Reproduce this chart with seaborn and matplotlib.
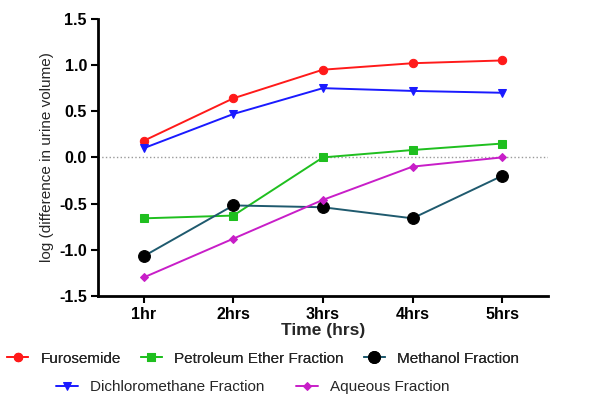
import pandas as pd
import matplotlib.pyplot as plt
import seaborn as sns

# Datos
horas = ['1hr', '2hrs', '3hrs', '4hrs', '5hrs']
furosemide = [0.18, 0.64, 0.95, 1.02, 1.05]
dichloromethane = [0.10, 0.47, 0.75, 0.72, 0.70]
petroleum = [-0.66, -0.63, 0.00, 0.08, 0.15]
methanol = [-1.07, -0.52, -0.54, -0.66, -0.20]
aqueous = [-1.30, -0.88, -0.46, -0.10, 0.00]

series = {
    'Furosemide': furosemide,
    'Dichloromethane Fraction': dichloromethane,
    'Petroleum Ether Fraction': petroleum,
    'Methanol Fraction': methanol,
    'Aqueous Fraction': aqueous,
}
colores = {
    'Furosemide': '#ff1a1a',
    'Dichloromethane Fraction': '#1a1aff',
    'Petroleum Ether Fraction': '#1fbf1f',
    'Methanol Fraction': '#1f5a6e',
    'Aqueous Fraction': '#c81ec8',
}
marcadores = {
    'Furosemide': 'o',
    'Dichloromethane Fraction': 'v',
    'Petroleum Ether Fraction': 's',
    'Methanol Fraction': 'o',
    'Aqueous Fraction': 'D',
}
tam = {
    'Furosemide': 6,
    'Dichloromethane Fraction': 6,
    'Petroleum Ether Fraction': 6,
    'Methanol Fraction': 8.5,
    'Aqueous Fraction': 4,
}
cara = {k: colores[k] for k in series}
cara['Methanol Fraction'] = 'black'

filas = []
for nombre, vals in series.items():
    for i, v in enumerate(vals):
        filas.append({'x': i, 'y': v, 'serie': nombre})
df = pd.DataFrame(filas)

sns.set_theme(style="ticks")
plt.rcParams['font.family'] = ['Liberation Sans', 'DejaVu Sans']

fig = plt.figure(figsize=(5.98, 3.94), dpi=100)
ax = fig.add_axes([0.164, 0.249, 0.752, 0.703])

ax.axhline(0, color='#999999', linestyle=':', linewidth=1.0, zorder=1)

handles = {}
for nombre in series:
    d = df[df['serie'] == nombre]
    sns.lineplot(data=d, x='x', y='y', ax=ax, color=colores[nombre],
                 marker=marcadores[nombre], markersize=tam[nombre],
                 markerfacecolor=cara[nombre], markeredgecolor=cara[nombre],
                 linewidth=1.4, zorder=3)
    handles[nombre] = ax.lines[-1]

ax.set_xlim(-0.51, 4.51)
ax.set_ylim(-1.5, 1.5)
ax.set_xticks(range(len(horas)))
ax.set_xticklabels(horas)
ax.set_yticks([-1.5, -1.0, -0.5, 0.0, 0.5, 1.0, 1.5])
ax.set_yticklabels(['-1.5', '-1.0', '-0.5', '0.0', '0.5', '1.0', '1.5'])
for lab in ax.get_xticklabels() + ax.get_yticklabels():
    lab.set_fontweight('bold')
    lab.set_fontsize(11.5)
ax.tick_params(direction='out', length=5, width=1.5, colors='black', pad=3)
for s in ['left', 'bottom']:
    ax.spines[s].set_linewidth(2)
    ax.spines[s].set_color('black')
sns.despine(ax=ax)
ax.set_xlabel('Time (hrs)', fontweight='bold', fontsize=12.5, labelpad=1)
ax.set_ylabel('log (difference in urine volume)', fontsize=11, labelpad=4)

fila1 = ['Furosemide', 'Petroleum Ether Fraction', 'Methanol Fraction']
fila2 = ['Dichloromethane Fraction', 'Aqueous Fraction']
ley1 = fig.legend([handles[n] for n in fila1], fila1, loc='center', ncol=3,
                  bbox_to_anchor=(0.44, 0.09), frameon=False, fontsize=11,
                  handlelength=1.4, columnspacing=1.3, handletextpad=0.8)
fig.add_artist(ley1)
fig.legend([handles[n] for n in fila2], fila2, loc='center', ncol=2,
           bbox_to_anchor=(0.423, 0.017), frameon=False, fontsize=11,
           handlelength=1.4, columnspacing=2.1, handletextpad=0.8)

fig.savefig('out.png', dpi=100)
